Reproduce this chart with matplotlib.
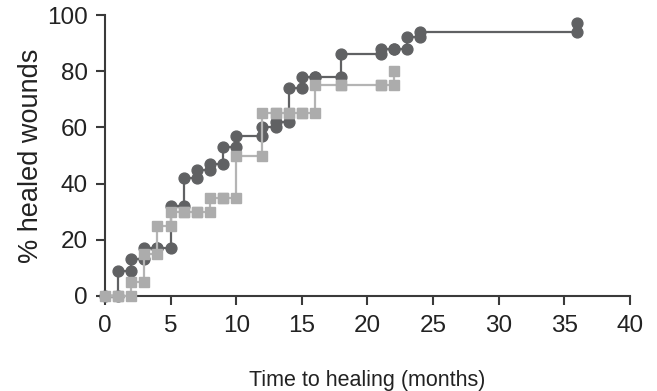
import matplotlib
matplotlib.use('Agg')
import matplotlib.pyplot as plt

plt.rcParams['font.family'] = ['Liberation Sans', 'DejaVu Sans']

# Kaplan-Meier style cumulative healing
dark_t = [0, 1, 2, 3, 4, 5, 6, 7, 8, 9, 10, 12, 13, 14, 15, 16, 18, 21, 22, 23, 24, 36]
dark_y = [0, 9, 13, 17, 17, 32, 42, 45, 47, 53, 57, 60, 62, 74, 78, 78, 86, 88, 88, 92, 94, 97]

gray_t = [0, 1, 2, 3, 4, 5, 6, 7, 8, 9, 10, 12, 13, 14, 15, 16, 18, 21, 22]
gray_y = [0, 0, 5, 15, 25, 30, 30, 30, 35, 35, 50, 65, 65, 65, 65, 75, 75, 75, 80]

xticks = [0, 5, 10, 15, 20, 25, 30, 35, 40]
yticks = [0, 20, 40, 60, 80, 100]


def corners(t, y):
    # every step gets a marker at its lower and upper end
    xs, ys = [t[0]], [y[0]]
    for i in range(1, len(t)):
        xs += [t[i], t[i]]
        ys += [y[i - 1], y[i]]
    return xs, ys


fig = plt.figure(figsize=(6.57, 3.91), dpi=100)
ax = fig.add_axes([0.1598, 0.243, 0.7991, 0.7186])

dx, dy = corners(dark_t, dark_y)
gx, gy = corners(gray_t, gray_y)

# the last dark step ends at 94 at 36 months, the top marker sits above it
ax.plot(dx[:-1], dy[:-1], color='#606163', lw=1.6, zorder=2, clip_on=False)
ax.plot(dx, dy, ls='none', marker='o', ms=7.8, color='#606163',
        mec='#606163', zorder=3, clip_on=False)
ax.plot(gx, gy, color='#b4b4b4', lw=1.6, marker='s', ms=7.5,
        mfc='#acacac', mec='#acacac', zorder=4, clip_on=False)

ax.set_xlim(0, 40)
ax.set_ylim(0, 100)
ax.set_xticks(xticks)
ax.set_yticks(yticks)

for s in ['top', 'right']:
    ax.spines[s].set_visible(False)
for s in ['left', 'bottom']:
    ax.spines[s].set_color('#3a3a3a')
    ax.spines[s].set_linewidth(1.5)

ax.tick_params(direction='out', length=6.5, width=1.5, color='#3a3a3a',
               labelsize=17.5, labelcolor='#222222')
ax.tick_params(axis='x', pad=7)
ax.tick_params(axis='y', pad=6)

ax.set_xlabel('Time to healing (months)', fontsize=15.5, color='#222222', labelpad=24)
ax.set_ylabel('% healed wounds', fontsize=19.5, color='#222222', labelpad=2)

fig.savefig('out.png', dpi=100)
